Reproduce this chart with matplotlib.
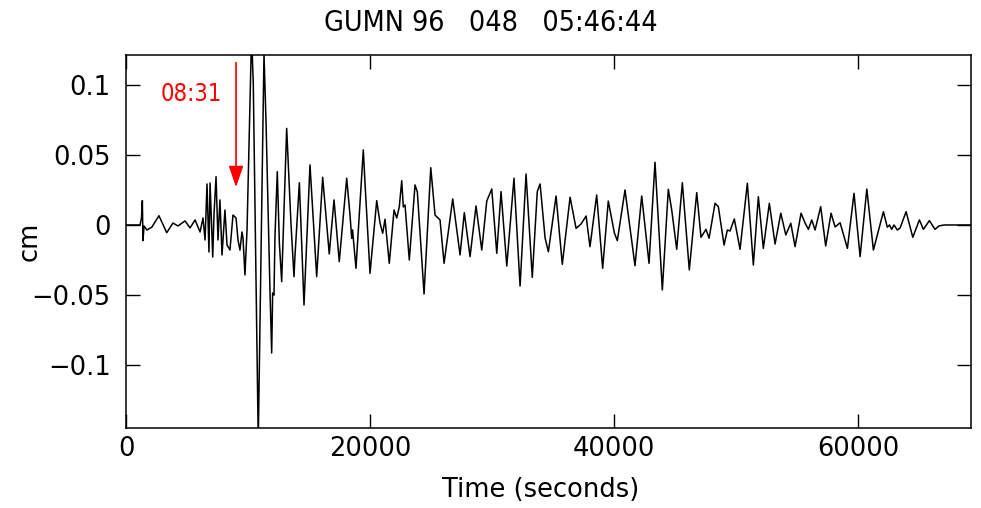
import matplotlib
matplotlib.use("Agg")
import matplotlib.pyplot as plt
from matplotlib import font_manager

# Station / event header
station = "GUMN"
year = "96"
julian_day = "048"
origin_time = "05:46:44"
arrival_label = "08:31"
arrival_time_s = 9020

# Displacement record: turning points of the trace (time in s, displacement in cm)
time_s = [
    0, 1150, 1270, 1340, 1390, 1480, 1720, 2130, 2700, 3340, 3850, 4260, 4840,
    5250, 5660, 6070, 6310, 6480, 6640, 6800, 6890, 7110, 7210, 7380, 7540,
    7700, 7870, 8110, 8280, 8520, 8770, 9020, 9180, 9340, 9510, 9590, 9750,
    9920, 10290, 10430, 10840, 11310, 11480, 11800, 11940, 12020, 12130,
    12210, 12400, 12570, 12760, 13170, 13400, 13520, 13770, 13850, 14210,
    14590, 15080, 15630, 16120, 16660, 17050, 17480, 18090, 18360, 18500,
    18570, 18850, 19450, 19590, 20000, 20550, 20820, 21040, 21230, 21580,
    21970, 22190, 22400, 22600, 22730, 22870, 23220, 23690, 23880, 24430,
    24980, 25330, 25740, 26070, 26780, 27380, 27730, 28200, 28690, 29160,
    29570, 29980, 30390, 30740, 31210, 31800, 32300, 32790, 33300, 33710,
    33940, 34350, 34620, 35250, 35760, 36400, 36890, 37300, 37710, 38030,
    38580, 39070, 39530, 40030, 40270, 40900, 41720, 42270, 42870, 43360,
    43960, 44450, 44730, 45140, 45600, 46170, 46780, 47130, 47540, 47790,
    48280, 48550, 49020, 49290, 49510, 49860, 50330, 50930, 51420, 51830,
    52240, 52730, 53200, 53670, 54080, 54490, 54840, 55330, 55660, 55930,
    56210, 56480, 56940, 57350, 57790, 58120, 58530, 59130, 59670, 60170,
    60720, 61260, 62080, 62400, 62580, 62760, 62950, 63220, 63450, 63940,
    64490, 65030, 65360, 65850, 66310, 66640, 67050, 69260,
]
disp_cm = [
    0.0, 0.0, 0.005, 0.0174, -0.0112, -0.0007, -0.0036, -0.0014, 0.0066,
    -0.0055, 0.0014, -0.0007, 0.0029, -0.0021, 0.0036, -0.005, 0.005,
    -0.0107, 0.0293, -0.0193, 0.030, -0.0229, 0.0071, 0.0345, -0.0107,
    0.0179, -0.0214, 0.0107, -0.0143, -0.0179, 0.0071, 0.005, -0.0107,
    -0.0179, -0.005, -0.0093, -0.0357, -0.0036, 0.135, 0.1024, -0.154,
    0.122, 0.0729, -0.0464, -0.0914, -0.0486, -0.05, -0.0084, 0.0381,
    -0.0129, -0.0405, 0.069, 0.025, 0.0014, -0.0369, -0.0221, 0.0302,
    -0.0571, 0.0429, -0.0369, 0.0341, -0.0207, 0.0179, -0.0262, 0.0334,
    0.0071, -0.0095, -0.0036, -0.0309, 0.0536, 0.030, -0.0345, 0.0174,
    0.0014, -0.0059, 0.0041, -0.0274, 0.0107, 0.005, 0.0129, 0.0316,
    0.0129, 0.0143, -0.025, 0.0286, 0.0236, -0.0493, 0.0409, 0.0071,
    0.0036, -0.0274, 0.0186, -0.0214, 0.0088, -0.0226, 0.0136, -0.0179,
    0.0171, 0.0257, -0.0202, 0.0238, -0.0293, 0.0334, -0.0436, 0.0364,
    -0.0374, 0.0238, 0.0293, -0.0093, -0.0191, 0.0207, -0.0281, 0.0198,
    -0.0024, 0.0007, 0.0064, -0.0155, 0.0214, -0.0309, 0.0171, -0.0057,
    -0.0112, 0.025, -0.0291, 0.0207, -0.0274, 0.0448, -0.0464, 0.0255,
    0.0107, -0.0174, 0.0302, -0.0321, 0.0231, -0.0088, -0.0031, -0.0095,
    0.0155, 0.0131, -0.0143, -0.0036, -0.0043, 0.0043, -0.0174, 0.0298,
    -0.0286, 0.0202, -0.0167, 0.0155, -0.0136, 0.0084, -0.0071, 0.0012,
    -0.0155, 0.0084, 0.0014, -0.0031, 0.0036, -0.0036, 0.0131, -0.015,
    0.0084, -0.0014, 0.0016, -0.0167, 0.0226, -0.0226, 0.0257, -0.0179,
    0.0095, -0.0016, 0.0, -0.0031, 0.0, -0.0036, -0.0021, 0.0095, -0.0088,
    0.0036, -0.0031, 0.0031, -0.0031, -0.0007, 0.0, 0.0,
]

x_ticks = [0, 20000, 40000, 60000]
y_ticks = [-0.1, -0.05, 0, 0.05, 0.1]
y_tick_labels = ["\u22120.1", "\u22120.05", "0", "0.05", "0.1"]

# Condensed face for the header and the arrival label, if one is installed
condensed = [f for f in font_manager.fontManager.ttflist
             if f.name in ("DejaVu Sans", "Liberation Sans Narrow")
             and f.stretch in ("condensed", "semi-condensed", 300, 400)]
narrow_stretch = "condensed" if condensed else "normal"

fig = plt.figure(figsize=(9.81, 5.08), dpi=100)
ax = fig.add_axes([126 / 981, 1 - 428 / 508, (971 - 126) / 981, (428 - 55) / 508])

ax.plot(time_s, disp_cm, color="black", lw=1.1, solid_joinstyle="round")

ax.set_xlim(0, 69260)
ax.set_ylim(-0.145, 0.1214)
ax.set_xticks(x_ticks)
ax.set_xticklabels([str(v) for v in x_ticks])
ax.set_yticks(y_ticks)
ax.set_yticklabels(y_tick_labels)
ax.tick_params(direction="in", length=10, width=1.0, top=True, right=True,
               labelsize=18.5)
ax.tick_params(axis="y", pad=11)
ax.tick_params(axis="x", pad=6)
for s in ax.spines.values():
    s.set_linewidth(1.1)

ax.set_xlabel("Time (seconds)", fontsize=18.5)
ax.xaxis.set_label_coords((541 - 126) / 845, (428 - 477) / 373)
ax.set_ylabel("cm", fontsize=18.5)
ax.yaxis.set_label_coords((43 - 126) / 845, 0.5)

fig.text(0.5, 1 - 23 / 508, f"{station} {year}   {julian_day}   {origin_time}",
         ha="center", va="center", fontsize=20.5, fontstretch=narrow_stretch)

# P-wave arrival marker
ax.annotate("", xy=(arrival_time_s, 0.027), xytext=(arrival_time_s, 0.116),
            arrowprops=dict(arrowstyle="-|>,head_length=1.3,head_width=0.45",
                            color="red", lw=1.2, shrinkA=0, shrinkB=0))
ax.text(7870, 0.0935, arrival_label, color="red",
        ha="right", va="center", fontsize=17, fontstretch=narrow_stretch)

fig.savefig("out.png", dpi=100)
